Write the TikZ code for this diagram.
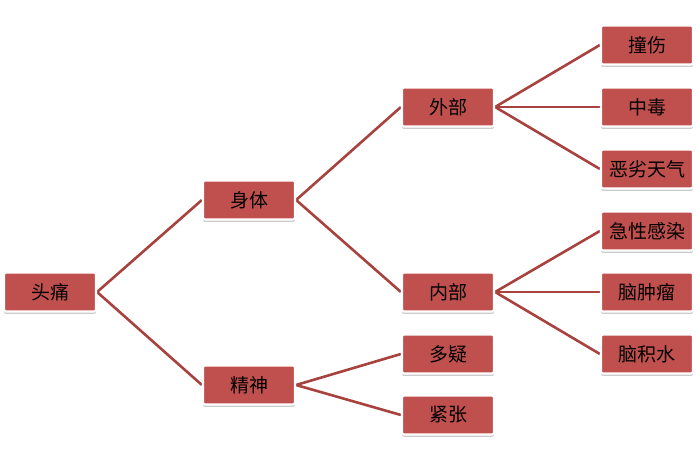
\documentclass[tikz,border=0pt]{standalone}
\usepackage{fontspec}
\setmainfont{Noto Sans CJK SC}
\usetikzlibrary{shadows,backgrounds}
\definecolor{boxred}{HTML}{C0504D}
\definecolor{linered}{HTML}{A8423F}
\tikzset{
  box/.style={draw=white, line width=2.2pt, fill=boxred, rounded corners=2pt,
    minimum width=92pt, minimum height=39pt, inner sep=0pt,
    font=\fontsize{19}{21}\selectfont, text=black,
    drop shadow={shadow xshift=0pt, shadow yshift=-2.5pt, opacity=0.5, fill=gray!80}},
  conn/.style={draw=linered, line width=2.6pt}
}
\begin{document}
\begin{tikzpicture}[x=1pt,y=-1pt]
\useasboundingbox (0,0) rectangle (697,462);
\node[box] (tt) at (50,292) {头痛};
\node[box] (st) at (249,200) {身体};
\node[box] (js) at (249,385) {精神};
\node[box] (wb) at (448,107) {外部};
\node[box] (nb) at (448,292) {内部};
\node[box] (dy) at (448,354) {多疑};
\node[box] (jz) at (448,415) {紧张};
\node[box] (zs) at (647,45) {撞伤};
\node[box] (zd) at (647,107) {中毒};
\node[box] (elt) at (647,169) {恶劣天气};
\node[box] (jx) at (647,231) {急性感染};
\node[box] (nzl) at (647,292) {脑肿瘤};
\node[box] (njs) at (647,354) {脑积水};
\begin{scope}[on background layer]
\draw[conn] (tt.east) -- (st.west);
\draw[conn] (tt.east) -- (js.west);
\draw[conn] (st.east) -- (wb.west);
\draw[conn] (st.east) -- (nb.west);
\draw[conn] (js.east) -- (dy.west);
\draw[conn] (js.east) -- (jz.west);
\draw[conn] (wb.east) -- (zs.west);
\draw[conn] (wb.east) -- (zd.west);
\draw[conn] (wb.east) -- (elt.west);
\draw[conn] (nb.east) -- (jx.west);
\draw[conn] (nb.east) -- (nzl.west);
\draw[conn] (nb.east) -- (njs.west);
\end{scope}
\end{tikzpicture}
\end{document}
